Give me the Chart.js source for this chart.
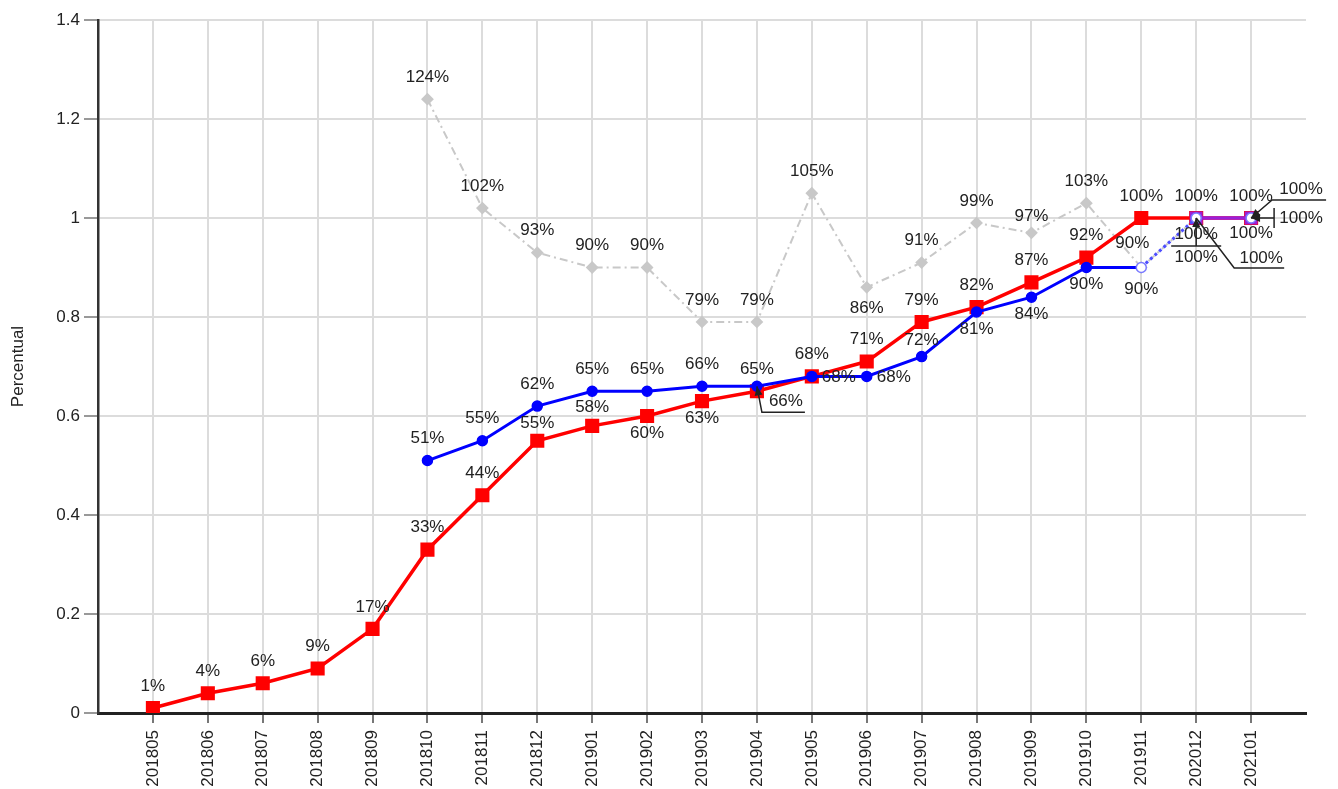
<!DOCTYPE html>
<html>
<head>
<meta charset="utf-8">
<script src="https://cdn.jsdelivr.net/npm/chart.js@4.4.1/dist/chart.umd.min.js"></script>
<style>
  html, body { margin: 0; padding: 0; background: #fff; overflow: hidden; }
  #wrap { position: relative; width: 1338px; height: 789px; }
</style>
</head>
<body>
<div id="wrap"><canvas id="chart"></canvas></div>
<script>
// ---- data ----
const months = ['201805', '201806', '201807', '201808', '201809', '201810', '201811',
  '201812', '201901', '201902', '201903', '201904', '201905', '201906', '201907',
  '201908', '201909', '201910', '201911', '202012', '202101'];

const redValues = [0.01, 0.04, 0.06, 0.09, 0.17, 0.33, 0.44, 0.55, 0.58, 0.60, 0.63,
  0.65, 0.68, 0.71, 0.79, 0.82, 0.87, 0.92, 1.00, 1.00, 1.00];

const blueValues = [null, null, null, null, null, 0.51, 0.55, 0.62, 0.65, 0.65, 0.66,
  0.66, 0.68, 0.68, 0.72, 0.81, 0.84, 0.90, 0.90, 1.00, 1.00];

const grayValues = [null, null, null, null, null, 1.24, 1.02, 0.93, 0.90, 0.90, 0.79,
  0.79, 1.05, 0.86, 0.91, 0.99, 0.97, 1.03, 0.90, 1.00, 1.00];

const purpleValues = [null, null, null, null, null, null, null, null, null, null, null,
  null, null, null, null, null, null, null, null, 1.00, 1.00];

const yTicks = { min: 0, max: 1.4, step: 0.2 };
const yTitle = 'Percentual';

// ---- label placement (offsets from the point, in px) ----
const ABOVE = { dx: 0, dy: -22 };
const BELOW = { dx: 0, dy: 17 };
const RIGHT = { dx: 10, dy: 1, align: 'left' };

const labelTweaks = {
  red: {
    '201812': { dx: 0, dy: -17 },
    '201901': { dx: 0, dy: -19 },
    '201902': BELOW,
    '201903': BELOW,
  },
  blue: {
    '201904': { path: [[5, 26], [48, 26]], dx: 29, dy: 15, arrow: true },
    '201905': RIGHT,
    '201906': RIGHT,
    '201907': { dx: 0, dy: -16 },
    '201908': BELOW,
    '201909': BELOW,
    '201910': BELOW,
    '201911': { dx: 0, dy: 22 },
    '202012': { path: [[0, 28]], bar: [[-25, 28], [25, 28]], dx: 0, dy: 39, arrow: true },
    '202101': { dx: 0, dy: 15 },
  },
  gray: {
    '201906': { dx: 0, dy: 21 },
    '201909': { dx: 0, dy: -17 },
    '201911': { dx: -9, dy: -24 },
    '202012': { dx: 0, dy: 16 },
    '202101': { path: [[21, -18], [75, -18]], dx: 50, dy: -29, arrow: true },
  },
  purple: {
    '202012': { path: [[38, 50], [88, 50]], dx: 65, dy: 40 },
    '202101': { path: [[23, 0]], bar: [[23, -10], [23, 10]], dx: 50, dy: 0, arrow: true },
  },
};

const FONT = '"Liberation Sans", Arial, sans-serif';
const pad = arr => [null, ...arr, null];
const idx = m => months.indexOf(m) + 1; // +1 for the blank leading slot
const forecastFrom = idx('201911');
const purpleFrom = idx('202012');
const PURPLE = '#9b1fd6';

function drawArrow(ctx, x, y, fromX, fromY) {
  const a = Math.atan2(y - fromY, x - fromX);
  const len = 9, half = 4;
  ctx.beginPath();
  ctx.moveTo(x, y);
  ctx.lineTo(x - len * Math.cos(a) + half * Math.sin(a), y - len * Math.sin(a) - half * Math.cos(a));
  ctx.lineTo(x - len * Math.cos(a) - half * Math.sin(a), y - len * Math.sin(a) + half * Math.cos(a));
  ctx.closePath();
  ctx.fill();
}

const pointLabels = {
  id: 'pointLabels',
  afterDatasetsDraw(chart) {
    const ctx = chart.ctx;
    ctx.save();
    ctx.font = '17px ' + FONT;
    ctx.textBaseline = 'middle';
    chart.data.datasets.forEach((ds, di) => {
      const meta = chart.getDatasetMeta(di);
      meta.data.forEach((el, i) => {
        const v = ds.data[i];
        if (v === null || v === undefined) return;
        const month = chart.data.labels[i];
        const p = (labelTweaks[ds.key] || {})[month] || ABOVE;
        const x = el.x, y = el.y;
        ctx.strokeStyle = '#222';
        ctx.fillStyle = '#222';
        ctx.lineWidth = 1.5;
        if (p.path) {
          ctx.beginPath();
          ctx.moveTo(x, y);
          p.path.forEach(q => ctx.lineTo(x + q[0], y + q[1]));
          ctx.stroke();
          if (p.bar) {
            ctx.beginPath();
            ctx.moveTo(x + p.bar[0][0], y + p.bar[0][1]);
            ctx.lineTo(x + p.bar[1][0], y + p.bar[1][1]);
            ctx.stroke();
          }
          if (p.arrow) drawArrow(ctx, x, y, x + p.path[0][0], y + p.path[0][1]);
        }
        ctx.textAlign = p.align || 'center';
        ctx.fillText(Math.round(v * 100) + '%', x + p.dx, y + p.dy);
      });
    });
    ctx.restore();
  }
};

new Chart(document.getElementById('chart'), {
  type: 'line',
  data: {
    labels: pad(months),
    datasets: [
      {
        key: 'blue',
        data: pad(blueValues),
        order: 0,
        borderColor: '#0000ff',
        borderWidth: 3,
        pointStyle: 'circle',
        pointRadius: 5,
        pointBorderWidth: 1.5,
        pointBackgroundColor: pad(blueValues).map((v, i) => i >= forecastFrom ? '#ffffff' : '#0000ff'),
        pointBorderColor: pad(blueValues).map((v, i) => i >= forecastFrom ? '#7a7aff' : '#0000ff'),
        segment: {
          borderColor: c => c.p0DataIndex >= purpleFrom ? PURPLE : (c.p0DataIndex >= forecastFrom ? '#4d4dff' : undefined),
          borderDash: c => (c.p0DataIndex >= forecastFrom && c.p0DataIndex < purpleFrom) ? [3, 3] : undefined,
        },
      },
      {
        key: 'purple',
        data: pad(purpleValues),
        order: 1,
        borderColor: PURPLE,
        borderWidth: 3,
        pointStyle: 'rect',
        pointRadius: 7,
        pointBackgroundColor: PURPLE,
        pointBorderColor: PURPLE,
      },
      {
        key: 'red',
        data: pad(redValues),
        order: 2,
        borderColor: '#ff0000',
        borderWidth: 3.5,
        pointStyle: 'rect',
        pointRadius: 7.5,
        pointBackgroundColor: '#ff0000',
        pointBorderColor: '#ff0000',
      },
      {
        key: 'gray',
        data: pad(grayValues),
        order: 3,
        borderColor: '#c8c8c8',
        borderWidth: 2,
        borderDash: [8, 4, 2, 4],
        pointStyle: 'rectRot',
        pointRadius: 5,
        pointBackgroundColor: '#c8c8c8',
        pointBorderColor: '#c8c8c8',
      },
    ],
  },
  options: {
    responsive: true,
    maintainAspectRatio: false,
    animation: false,
    layout: { padding: { top: 20, right: 32, left: 0, bottom: 0 } },
    plugins: { legend: { display: false }, tooltip: { enabled: false } },
    elements: { line: { tension: 0 } },
    scales: {
      x: {
        offset: false,
        afterFit: s => { s.height = 76; },
        grid: { color: '#dcdcdc', lineWidth: 2, tickLength: 10, tickColor: '#777' },
        border: { color: '#222', width: 3 },
        ticks: {
          autoSkip: false, minRotation: 90, maxRotation: 90, padding: 7,
          color: '#222', font: { family: FONT, size: 17 },
        },
      },
      y: {
        min: yTicks.min,
        max: yTicks.max,
        afterFit: s => { s.width = 98; },
        grid: { color: '#dcdcdc', lineWidth: 2, tickLength: 14, tickColor: '#999' },
        border: { color: '#333', width: 2.5 },
        ticks: {
          stepSize: yTicks.step, padding: 4, color: '#222', font: { family: FONT, size: 17 },
          callback: v => String(Number(v.toFixed(1))),
        },
        title: { display: true, text: yTitle, color: '#222', padding: { top: 8, bottom: 0 }, font: { family: FONT, size: 17 } },
      },
    },
  },
  plugins: [pointLabels],
});
</script>
</body>
</html>
